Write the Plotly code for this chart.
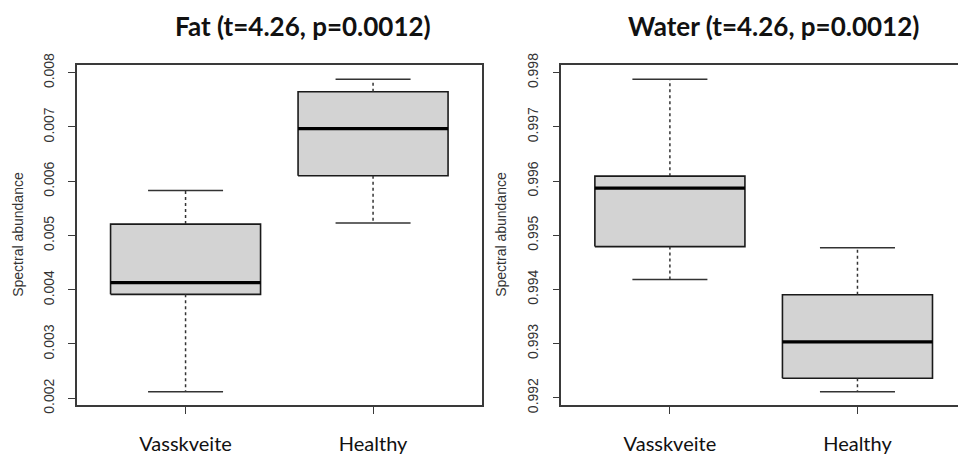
import plotly.graph_objects as go

categories = ["Vasskveite", "Healthy"]
cat_pos = [1, 2]

# Five-number summaries: lower whisker, Q1, median, Q3, upper whisker
fat_low = [0.00212, 0.00523]
fat_q1 = [0.003915, 0.00610]
fat_med = [0.00413, 0.00697]
fat_q3 = [0.00521, 0.00765]
fat_high = [0.00583, 0.00788]

water_low = [0.99418, 0.99211]
water_q1 = [0.99479, 0.99236]
water_med = [0.99587, 0.99303]
water_q3 = [0.99609, 0.99390]
water_high = [0.99788, 0.99477]

fat_ticks = [0.002, 0.003, 0.004, 0.005, 0.006, 0.007, 0.008]
fat_ticktext = ["0.002", "0.003", "0.004", "0.005", "0.006", "0.007", "0.008"]
water_ticks = [0.992, 0.993, 0.994, 0.995, 0.996, 0.997, 0.998]
water_ticktext = ["0.992", "0.993", "0.994", "0.995", "0.996", "0.997", "0.998"]

titles = ["Fat (t=4.26, p=0.0012)", "Water (t=4.26, p=0.0012)"]
ylabel = "Spectral abundance"

BOX_HALF = 0.4
CAP_HALF = 0.2
FRAME = "#3a3a3a"

fig = go.Figure()


def add_boxes(low, q1, med, q3, high, xa, ya):
    for i, c in enumerate(cat_pos):
        # box
        fig.add_trace(go.Scatter(
            x=[c - BOX_HALF, c + BOX_HALF, c + BOX_HALF, c - BOX_HALF, c - BOX_HALF],
            y=[q1[i], q1[i], q3[i], q3[i], q1[i]],
            mode="lines", fill="toself", fillcolor="#d3d3d3",
            line=dict(color="#1a1a1a", width=1.6),
            xaxis=xa, yaxis=ya, hoverinfo="skip", showlegend=False))
        # median
        fig.add_trace(go.Scatter(
            x=[c - BOX_HALF, c + BOX_HALF], y=[med[i], med[i]],
            mode="lines", line=dict(color="black", width=3.2),
            xaxis=xa, yaxis=ya, hoverinfo="skip", showlegend=False))
        # whiskers (dashed)
        for a, b in ((q3[i], high[i]), (q1[i], low[i])):
            fig.add_trace(go.Scatter(
                x=[c, c], y=[a, b], mode="lines",
                line=dict(color="#333333", width=1.5, dash="3px,3px"),
                xaxis=xa, yaxis=ya, hoverinfo="skip", showlegend=False))
        # caps
        for v in (high[i], low[i]):
            fig.add_trace(go.Scatter(
                x=[c - CAP_HALF, c + CAP_HALF], y=[v, v], mode="lines",
                line=dict(color="#333333", width=1.5),
                xaxis=xa, yaxis=ya, hoverinfo="skip", showlegend=False))


add_boxes(fat_low, fat_q1, fat_med, fat_q3, fat_high, "x", "y")
add_boxes(water_low, water_q1, water_med, water_q3, water_high, "x2", "y2")

W, H = 958, 459
ydom = [(H - 411.7) / H, (H - 56) / H]

xaxis_common = dict(
    tickvals=cat_pos, ticktext=categories, ticks="outside", ticklen=7,
    tickcolor=FRAME, tickwidth=1.3, showgrid=False, zeroline=False,
    showline=True, linecolor=FRAME, linewidth=1.5, mirror=True,
    tickfont=dict(family="Lato", size=20, color="#111111"),
    ticklabelstandoff=13, fixedrange=True)
yaxis_common = dict(
    ticks="outside", ticklen=7, tickcolor=FRAME, tickwidth=1.3,
    showgrid=False, zeroline=False, showline=True, linecolor=FRAME,
    linewidth=1.5, tickangle=-90, ticklabelstandoff=9,
    tickfont=dict(family="Liberation Sans", size=14, color="#333333"),
    fixedrange=True, domain=ydom)

fig.update_layout(
    width=W, height=H, margin=dict(l=0, r=0, t=0, b=0),
    paper_bgcolor="white", plot_bgcolor="white", showlegend=False,
    xaxis=dict(xaxis_common, domain=[77 / W, 482 / W], range=[0.421, 2.581], anchor="y"),
    yaxis=dict(yaxis_common, range=[0.00188, 0.00815], tickvals=fat_ticks,
               ticktext=fat_ticktext, mirror=True, anchor="x"),
    xaxis2=dict(xaxis_common, domain=[561.3 / W, 1.0], range=[0.421, 2.536], anchor="y2"),
    yaxis2=dict(yaxis_common, range=[0.99187, 0.99815], tickvals=water_ticks,
                ticktext=water_ticktext, mirror=False, anchor="x2"),
)

# panel titles
for txt, cx in zip(titles, [303, 773]):
    fig.add_annotation(text="<b>" + txt + "</b>", xref="paper", yref="paper",
                       x=cx / W, y=(H - 16) / H, xanchor="center", yanchor="middle",
                       showarrow=False, font=dict(family="Lato", size=26, color="#111111"))

# y axis titles
for cx in [18, 501]:
    fig.add_annotation(text=ylabel, xref="paper", yref="paper",
                       x=cx / W, y=(H - 234) / H, xanchor="center", yanchor="middle",
                       textangle=-90, showarrow=False,
                       font=dict(family="Liberation Sans", size=14, color="#333333"))

fig.write_html("out.html")
